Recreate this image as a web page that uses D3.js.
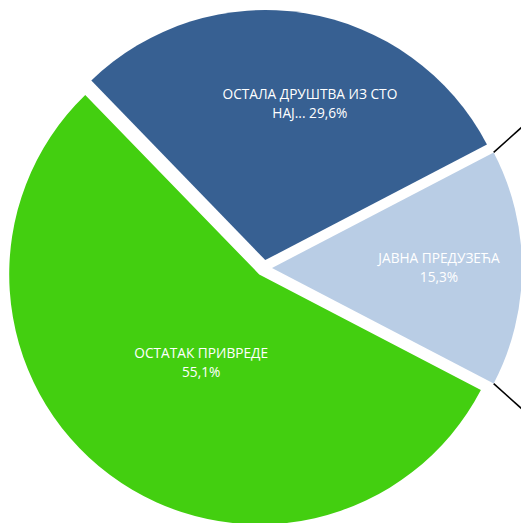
<html>
<head>
<meta charset="UTF-8">
<script src="https://cdn.jsdelivr.net/npm/d3@7"></script>
<style>
	body { margin: 0; background: #fff; }
	.lbl { fill: #fff; font-family: "Open Sans", sans-serif; font-size: 13.7px; text-anchor: middle; }
	line.connector { stroke: #000; stroke-width: 1.6; }
</style>
</head>
<body>
<div id="chart"></div>
<script>
// data, clockwise from the lower-right edge of the light slice
var categories = ["ОСТАТАК ПРИВРЕДЕ", "ОСТАЛА ДРУШТВА ИЗ СТО НАЈ...", "ЈАВНА ПРЕДУЗЕЋА"];
var values = [55.1, 29.6, 15.3];
var labelLines = [["ОСТАТАК ПРИВРЕДЕ", "55,1%"], ["ОСТАЛА ДРУШТВА ИЗ СТО", "НАЈ... 29,6%"], ["ЈАВНА ПРЕДУЗЕЋА", "15,3%"]];
var colors = ["#43cf10", "#376092", "#b9cde5"];

(function() {
	var width = 521, height = 523;
	var cx = 264, cy = 268, r = 250, explode = 8;

	var svg = d3.select("#chart").append("svg")
		.attr("width", width).attr("height", height);
	var g = svg.append("g").attr("transform", "translate(" + cx + "," + cy + ")");

	// the last slice ("other") is centred on 3 o'clock
	var total = d3.sum(values);
	var start = Math.PI / 2 + Math.PI * values[values.length - 1] / total;

	var pie = d3.pie().sort(null).value(function(d) { return d; })
		.startAngle(start).endAngle(start + 2 * Math.PI);
	var arcs = pie(values);
	var arc = d3.arc().innerRadius(0).outerRadius(r);

	function offset(d, k) {
		var a = (d.startAngle + d.endAngle) / 2;
		return [Math.sin(a) * k, -Math.cos(a) * k];
	}

	var slices = g.selectAll("g.slice")
		.data(arcs).enter()
		.append("g")
		.attr("class", "slice")
		.attr("transform", function(d) { var o = offset(d, explode); return "translate(" + o[0] + "," + o[1] + ")"; });

	slices.append("path")
		.attr("d", arc)
		.attr("fill", function(d, i) { return colors[i]; });

	// label placement (excel "best fit" is not on the bisector)
	var labelRadius = [106, 162, 167];
	var labelTurn = [-3.5, 6.8, 0];
	slices.each(function(d, i) {
		var a = (d.startAngle + d.endAngle) / 2 + labelTurn[i] * Math.PI / 180;
		var x = Math.sin(a) * labelRadius[i], y = -Math.cos(a) * labelRadius[i];
		var t = d3.select(this).append("text")
			.attr("class", "lbl")
			.attr("x", x).attr("y", y - 5);
		t.selectAll("tspan").data(labelLines[i]).enter()
			.append("tspan")
			.attr("x", x)
			.attr("dy", function(s, j) { return j == 0 ? 0 : 19; })
			.text(function(s) { return s; });
	});

	// connector lines to the secondary chart (off canvas)
	var other = arcs[arcs.length - 1];
	var o = offset(other, explode);
	[[other.startAngle, -42], [other.endAngle, 42]].forEach(function(p) {
		var x0 = o[0] + Math.sin(p[0]) * r, y0 = o[1] - Math.cos(p[0]) * r;
		var dir = p[1] * Math.PI / 180;
		g.append("line")
			.attr("class", "connector")
			.attr("x1", x0).attr("y1", y0)
			.attr("x2", x0 + Math.cos(dir) * 60).attr("y2", y0 + Math.sin(dir) * 60);
	});
})();
</script>
</body>
</html>
